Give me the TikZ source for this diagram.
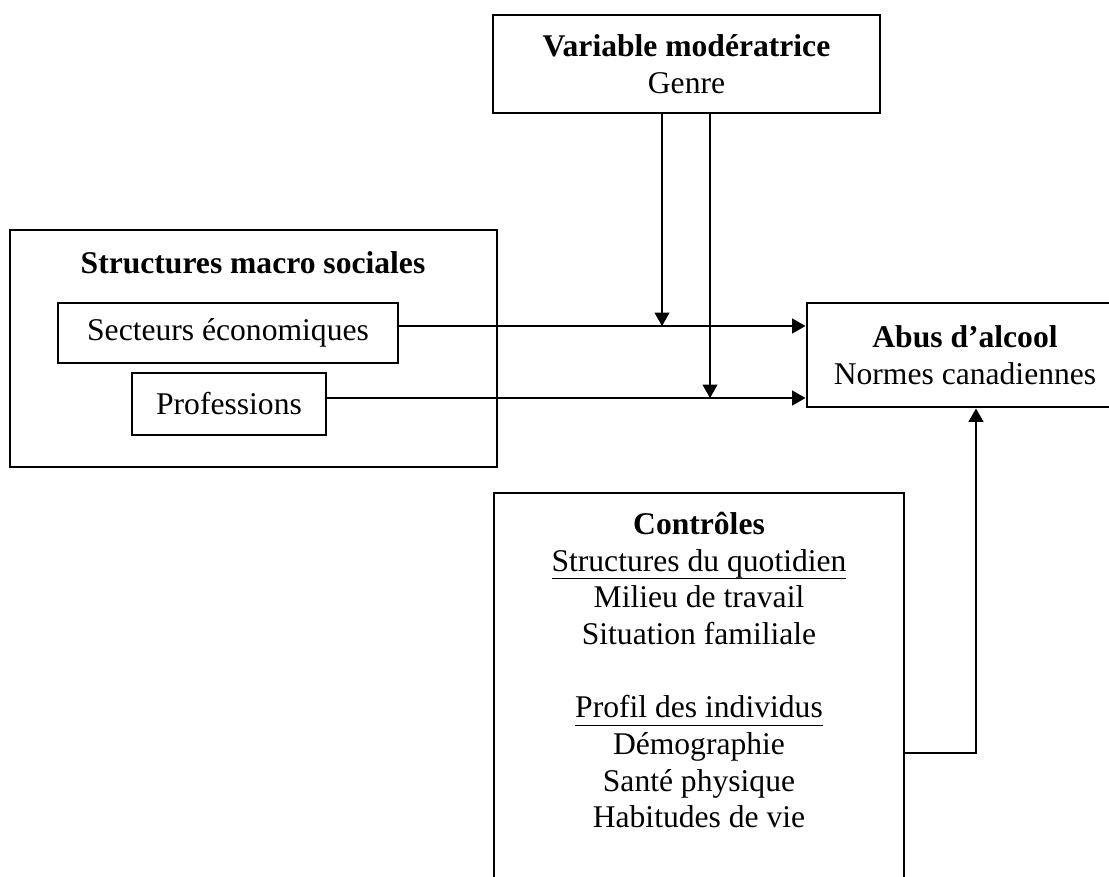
\documentclass[tikz,border=0pt]{standalone}
\usepackage{fontspec}
\setmainfont{Liberation Serif}
\usetikzlibrary{arrows.meta}
\newcommand{\myul}[1]{\leavevmode\setbox0=\hbox{#1}\rlap{\rule[-6pt]{\wd0}{1pt}}\box0}
\begin{document}
\begin{tikzpicture}[x=0.75pt,y=-0.75pt,
  every node/.style={font={\fontsize{23.7pt}{27.5pt}\selectfont}},
  bigbox/.style={draw,line width=2.2pt,inner sep=0pt,align=center},
  smallbox/.style={draw,line width=1.4pt,inner sep=0pt},
  conn/.style={line width=1.5pt,-{Triangle[length=10pt,width=11pt]}},
  thinconn/.style={line width=1.2pt,-{Triangle[length=10pt,width=11pt]}}]
\clip (0,0) rectangle (1109,876);
\fill[white] (0,0) rectangle (1109,876);
% moderator
\node[bigbox,minimum width=290.25pt,minimum height=73.5pt] (top) at (686.5,64)
  {\textbf{Variable modératrice}\\Genre};
% left structures box
\node[bigbox,minimum width=365.25pt,minimum height=177.75pt] (macro) at (253.5,348.5) {};
\node[anchor=base,inner sep=0pt] (macrot) at (253,273) {\textbf{Structures macro sociales}};
\node[smallbox,minimum width=255pt,minimum height=45pt] (sect) at (228,333) {Secteurs économiques};
\node[smallbox,minimum width=145.5pt,minimum height=46.5pt] (prof) at (229,404) {Professions};
% outcome
\node[bigbox,minimum width=237pt,minimum height=78pt] (abus) at (965,355)
  {\textbf{Abus d’alcool}\\Normes canadiennes};
% controls
\node[bigbox,minimum width=307.5pt,minimum height=305.25pt] (ctrl) at (699,696.5) {};
\node[anchor=north,inner sep=0pt,align=center] (ctrlt) at (699,512)
  {\textbf{Contrôles}\\\myul{Structures du quotidien}\\Milieu de travail\\Situation familiale\\[27.5pt]
   \myul{Profil des individus}\\Démographie\\Santé physique\\Habitudes de vie};
% junctions
\coordinate (j1) at (662,326);
\coordinate (j2) at (710,398);
\coordinate (c1) at (976,753);
% connectors
\draw[conn] (sect.east |- j1) -- (abus.west |- j1);
\draw[conn] (prof.east |- j2) -- (abus.west |- j2);
\draw[thinconn] (top.south -| j1) -- (j1);
\draw[thinconn] (top.south -| j2) -- (j2);
\draw[conn] (ctrl.east |- c1) -- (c1) -- (abus.south -| c1);
\end{tikzpicture}
\end{document}
